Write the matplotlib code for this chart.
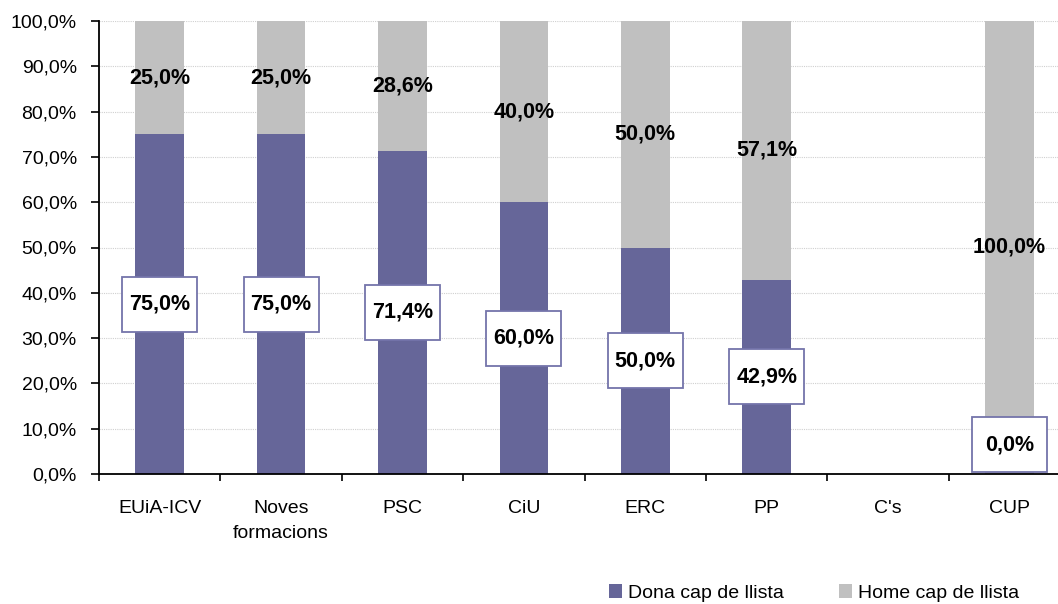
import matplotlib
matplotlib.use("Agg")
import matplotlib.pyplot as plt
import matplotlib.transforms as mtransforms
from matplotlib.patches import Rectangle
import numpy as np

plt.rcParams['font.family'] = ['Liberation Sans', 'DejaVu Sans']

categories = ["EUiA-ICV", "Noves\nformacions", "PSC", "CiU", "ERC", "PP", "C's", "CUP"]
dona = [75.0, 75.0, 71.4, 60.0, 50.0, 42.9, None, 0.0]
home = [25.0, 25.0, 28.6, 40.0, 50.0, 57.1, None, 100.0]

c_dona = "#666699"
c_home = "#C0C0C0"

fig = plt.figure(figsize=(10.58, 6.04), dpi=100)
ax = fig.add_axes([99/1058, (604-474)/604, 1 - 99/1058, (474-21)/604])

x = np.arange(len(categories))
d = np.array([np.nan if v is None else v for v in dona])
h = np.array([np.nan if v is None else v for v in home])
w = 0.4
ax.bar(x, np.nan_to_num(d), w, color=c_dona, label="Dona cap de llista", zorder=2)
ax.bar(x, np.nan_to_num(h), w, bottom=np.nan_to_num(d), color=c_home, label="Home cap de llista", zorder=2)

def fmt(v):
    return f"{v:.1f}%".replace(".", ",")

box_w, box_h = 0.75, 0.55  # inches
for i in range(len(categories)):
    if np.isnan(d[i]):
        continue
    ax.text(x[i], d[i] + h[i] / 2, fmt(h[i]), ha="center", va="center",
            fontsize=15.5, fontweight="bold", zorder=4)
    yc = d[i] / 2
    dy = 0.0 if d[i] > 0 else box_h / 2 + 0.02
    off = mtransforms.ScaledTranslation(x[i], yc, ax.transData)
    tr = fig.dpi_scale_trans + off
    rect = Rectangle((-box_w / 2, -box_h / 2 + dy), box_w, box_h, transform=tr,
                     fc="white", ec="#7474AA", lw=1.3, zorder=3, clip_on=False)
    ax.add_patch(rect)
    ax.text(0, dy, fmt(d[i]), transform=tr, ha="center", va="center",
            fontsize=15.5, fontweight="bold", zorder=4)

ax.set_xlim(-0.5, 7.4)
ax.set_ylim(0, 100)
ax.set_yticks(np.arange(0, 101, 10))
ax.set_yticklabels([fmt(v) for v in np.arange(0, 101, 10)], fontsize=14)
ax.yaxis.grid(True, color="#D0D0D0", linestyle=(0, (1, 1)), linewidth=0.8, zorder=0)
ax.set_axisbelow(True)

ax.set_xticks(np.arange(-0.5, 7.5, 1.0))
ax.set_xticklabels([])
ax.set_xticks(x, minor=True)
ax.set_xticklabels(categories, minor=True, fontsize=14, linespacing=1.6, va="top")
ax.tick_params(axis="x", which="minor", length=0, pad=19)
ax.tick_params(axis="x", which="major", length=5, width=1.2, direction="out")
ax.tick_params(axis="y", length=6, width=1.2, direction="out", pad=10)

for s in ["top", "right"]:
    ax.spines[s].set_visible(False)
for s in ["left", "bottom"]:
    ax.spines[s].set_linewidth(1.3)
    ax.spines[s].set_color("black")

fig.legend(loc="center", bbox_to_anchor=(814/1058, 1 - 593/604), ncol=2, frameon=False,
           fontsize=14, handlelength=0.7, handleheight=0.7, handletextpad=0.3,
           columnspacing=2.8)

fig.savefig("out.png", dpi=100)
